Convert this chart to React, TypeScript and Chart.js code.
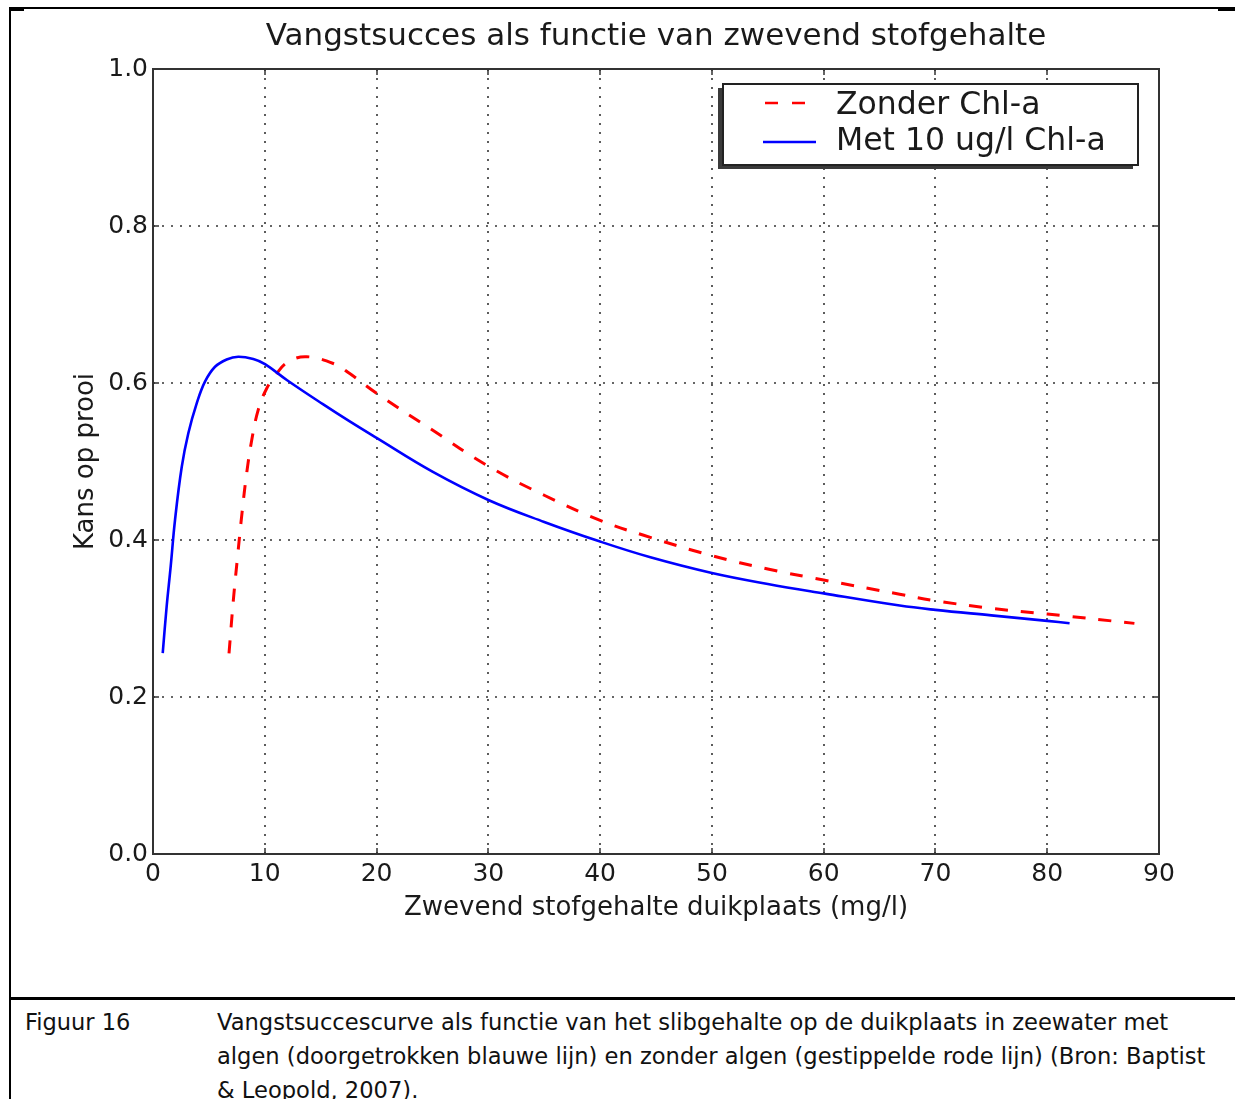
import React, { useEffect, useRef } from "react";
import { Chart, registerables } from "chart.js";

Chart.register(...registerables);

// ---------- data ----------
const TITLE = "Vangstsucces als functie van zwevend stofgehalte";
const X_LABEL = "Zwevend stofgehalte duikplaats (mg/l)";
const Y_LABEL = "Kans op prooi";
const SERIES_NAMES = ["Zonder Chl-a", "Met 10 ug/l Chl-a"];

const X_TICKS = [0, 10, 20, 30, 40, 50, 60, 70, 80, 90];
const Y_TICKS = [0, 0.2, 0.4, 0.6, 0.8, 1.0];

// Zonder Chl-a (red dashed)
const zonderX = [6.8, 7.19, 7.55, 7.96, 8.38, 8.83, 9.42, 10.17, 11.06, 12.1, 13.75, 16.28, 17.6, 20, 25, 30, 35, 40, 43.9, 50, 55, 60, 66.8, 70, 75, 80, 87.8];
const zonderY = [0.2556, 0.3236, 0.3766, 0.434, 0.485, 0.527, 0.566, 0.593, 0.612, 0.627, 0.6335, 0.624, 0.612, 0.587, 0.54, 0.494, 0.457, 0.425, 0.406, 0.38, 0.363, 0.349, 0.331, 0.3226, 0.313, 0.3057, 0.2938];

// Met 10 ug/l Chl-a (blue solid)
const metX = [0.87, 1.22, 1.58, 1.97, 2.57, 3.16, 3.91, 4.65, 5.55, 6.59, 7.63, 8.97, 10.02, 12.0, 15.2, 17.6, 20, 25, 30, 35, 40, 44.5, 50, 55, 60, 66.8, 70, 75, 80, 82];
const metY = [0.256, 0.315, 0.366, 0.4255, 0.493, 0.536, 0.574, 0.6017, 0.6207, 0.63, 0.6335, 0.6305, 0.624, 0.6035, 0.573, 0.551, 0.53, 0.487, 0.451, 0.423, 0.398, 0.378, 0.358, 0.344, 0.332, 0.3165, 0.311, 0.304, 0.297, 0.294];

const CAPTION_LABEL = "Figuur 16";
const CAPTION_LINES = [
  "Vangstsuccescurve als functie van het slibgehalte op de duikplaats in zeewater met",
  "algen (doorgetrokken blauwe lijn) en zonder algen (gestippelde rode lijn) (Bron: Baptist",
  "& Leopold, 2007).",
];

// ---------- styles ----------
const FONT = '"DejaVu Sans", Verdana, sans-serif';
const RED = "#ff0000";
const BLUE = "#0000ff";
const INK = "#1a1a1a";

const decorPlugin = {
  id: "decor",
  beforeDatasetsDraw(chart: any) {
    const { ctx, chartArea: a, scales } = chart;
    const x = scales.x;
    const y = scales.y;
    ctx.save();
    ctx.strokeStyle = "rgba(0,0,0,0.8)";
    ctx.lineWidth = 1.6;
    ctx.setLineDash([2, 7]);
    X_TICKS.forEach((v) => {
      if (v === X_TICKS[0] || v === X_TICKS[X_TICKS.length - 1]) return;
      const px = Math.round(x.getPixelForValue(v));
      ctx.beginPath();
      ctx.moveTo(px, a.top);
      ctx.lineTo(px, a.bottom);
      ctx.stroke();
    });
    Y_TICKS.forEach((v) => {
      if (v === Y_TICKS[0] || v === Y_TICKS[Y_TICKS.length - 1]) return;
      const py = Math.round(y.getPixelForValue(v));
      ctx.beginPath();
      ctx.moveTo(a.left, py);
      ctx.lineTo(a.right, py);
      ctx.stroke();
    });
    ctx.restore();
  },
  afterDatasetsDraw(chart: any) {
    const { ctx, chartArea: a, scales } = chart;
    const x = scales.x;
    const y = scales.y;
    ctx.save();
    // inward ticks
    ctx.strokeStyle = "#333";
    ctx.lineWidth = 1.5;
    ctx.setLineDash([]);
    const tl = 6;
    X_TICKS.forEach((v) => {
      const px = Math.round(x.getPixelForValue(v));
      ctx.beginPath();
      ctx.moveTo(px, a.bottom);
      ctx.lineTo(px, a.bottom - tl);
      ctx.moveTo(px, a.top);
      ctx.lineTo(px, a.top + tl);
      ctx.stroke();
    });
    Y_TICKS.forEach((v) => {
      const py = Math.round(y.getPixelForValue(v));
      ctx.beginPath();
      ctx.moveTo(a.left, py);
      ctx.lineTo(a.left + tl, py);
      ctx.moveTo(a.right, py);
      ctx.lineTo(a.right - tl, py);
      ctx.stroke();
    });
    // frame
    ctx.strokeStyle = "#333";
    ctx.lineWidth = 2;
    ctx.strokeRect(a.left, a.top, a.right - a.left, a.bottom - a.top);

    // legend
    const lx1 = a.right - 21;
    const lx0 = lx1 - 415;
    const ly0 = a.top + 15;
    const ly1 = ly0 + 81;
    ctx.fillStyle = "#3a3a3a";
    ctx.fillRect(lx0 - 5, ly0 + 4, lx1 - lx0, ly1 - ly0);
    ctx.fillStyle = "#ffffff";
    ctx.fillRect(lx0, ly0, lx1 - lx0, ly1 - ly0);
    ctx.strokeStyle = "#222";
    ctx.lineWidth = 2;
    ctx.strokeRect(lx0, ly0, lx1 - lx0, ly1 - ly0);

    ctx.lineWidth = 2.6;
    ctx.strokeStyle = RED;
    ctx.setLineDash([13, 14]);
    ctx.beginPath();
    ctx.moveTo(lx0 + 42, ly0 + 19);
    ctx.lineTo(lx0 + 83, ly0 + 19);
    ctx.stroke();
    ctx.setLineDash([]);
    ctx.strokeStyle = BLUE;
    ctx.beginPath();
    ctx.moveTo(lx0 + 40, ly0 + 58);
    ctx.lineTo(lx0 + 93, ly0 + 58);
    ctx.stroke();

    ctx.fillStyle = INK;
    ctx.font = `31.5px ${FONT}`;
    ctx.textAlign = "left";
    ctx.textBaseline = "alphabetic";
    ctx.fillText(SERIES_NAMES[0], lx0 + 113, ly0 + 30);
    ctx.fillText(SERIES_NAMES[1], lx0 + 113, ly0 + 66);

    // title
    ctx.textAlign = "center";
    ctx.font = `31px ${FONT}`;
    ctx.fillText(TITLE, (a.left + a.right) / 2, a.top - 24);

    // axis titles
    ctx.font = `26px ${FONT}`;
    ctx.fillText(X_LABEL, (a.left + a.right) / 2, a.bottom + 61);
    ctx.save();
    ctx.translate(a.left - 60, (a.top + a.bottom) / 2);
    ctx.rotate(-Math.PI / 2);
    ctx.fillText(Y_LABEL, 0, 0);
    ctx.restore();

    ctx.restore();
  },
};

export default function App() {
  const ref = useRef<HTMLCanvasElement | null>(null);

  useEffect(() => {
    if (!ref.current) return;
    const chart = new Chart(ref.current, {
      type: "line",
      data: {
        datasets: [
          {
            label: SERIES_NAMES[0],
            data: zonderX.map((v, i) => ({ x: v, y: zonderY[i] })),
            borderColor: RED,
            borderWidth: 3,
            borderDash: [13, 13],
            pointRadius: 0,
            fill: false,
            tension: 0.4,
            order: 1,
          },
          {
            label: SERIES_NAMES[1],
            data: metX.map((v, i) => ({ x: v, y: metY[i] })),
            borderColor: BLUE,
            borderWidth: 2.6,
            pointRadius: 0,
            fill: false,
            tension: 0.4,
            order: 0,
          },
        ],
      },
      options: {
        responsive: false,
        animation: false,
        devicePixelRatio: 1,
        events: [],
        layout: { padding: { left: 0, top: 69, right: 76, bottom: 0 } },
        plugins: {
          legend: { display: false },
          title: { display: false },
          tooltip: { enabled: false },
        },
        scales: {
          x: {
            type: "linear",
            min: X_TICKS[0],
            max: X_TICKS[X_TICKS.length - 1],
            afterBuildTicks: (s: any) => {
              s.ticks = X_TICKS.map((v) => ({ value: v }));
            },
            afterFit: (s: any) => {
              s.height = 141;
            },
            grid: { display: false, drawTicks: false },
            border: { display: false },
            ticks: {
              autoSkip: false,
              maxRotation: 0,
              padding: 5,
              color: INK,
              font: { family: FONT, size: 25 },
              callback: (v: any) => String(v),
            },
          },
          y: {
            type: "linear",
            min: Y_TICKS[0],
            max: Y_TICKS[Y_TICKS.length - 1],
            afterBuildTicks: (s: any) => {
              s.ticks = Y_TICKS.map((v) => ({ value: v }));
            },
            afterFit: (s: any) => {
              s.width = 153;
            },
            grid: { display: false, drawTicks: false },
            border: { display: false },
            ticks: {
              autoSkip: false,
              padding: 5,
              color: INK,
              font: { family: FONT, size: 25 },
              callback: (v: any) => Number(v).toFixed(1),
            },
          },
        },
      },
      plugins: [decorPlugin],
    });
    return () => chart.destroy();
  }, []);

  return (
    <div
      style={{
        position: "absolute",
        left: 0,
        top: 0,
        width: 1235,
        height: 1099,
        overflow: "hidden",
        background: "#fff",
      }}
    >
      <canvas
        ref={ref}
        width={1235}
        height={995}
        style={{ position: "absolute", left: 0, top: 0, width: 1235, height: 995 }}
      />
      {/* frame lines */}
      <div style={{ position: "absolute", left: 9, top: 7, width: 1226, height: 2, background: "#000" }} />
      <div style={{ position: "absolute", left: 10, top: 8, width: 14, height: 3, background: "#000" }} />
      <div style={{ position: "absolute", left: 1218, top: 8, width: 17, height: 3, background: "#000" }} />
      <div style={{ position: "absolute", left: 9, top: 7, width: 2, height: 1092, background: "#000" }} />
      <div style={{ position: "absolute", left: 10, top: 997, width: 1225, height: 3, background: "#000" }} />
      {/* caption */}
      <div
        style={{
          position: "absolute",
          left: 25,
          top: 1005,
          fontFamily: FONT,
          fontSize: "22.5px",
          lineHeight: "34px",
          color: "#111",
          whiteSpace: "nowrap",
        }}
      >
        {CAPTION_LABEL}
      </div>
      <div
        style={{
          position: "absolute",
          left: 217,
          top: 1005,
          fontFamily: FONT,
          fontSize: "22.6px",
          lineHeight: "34px",
          color: "#111",
          whiteSpace: "nowrap",
        }}
      >
        {CAPTION_LINES.map((l, i) => (
          <div key={i}>{l}</div>
        ))}
      </div>
    </div>
  );
}
